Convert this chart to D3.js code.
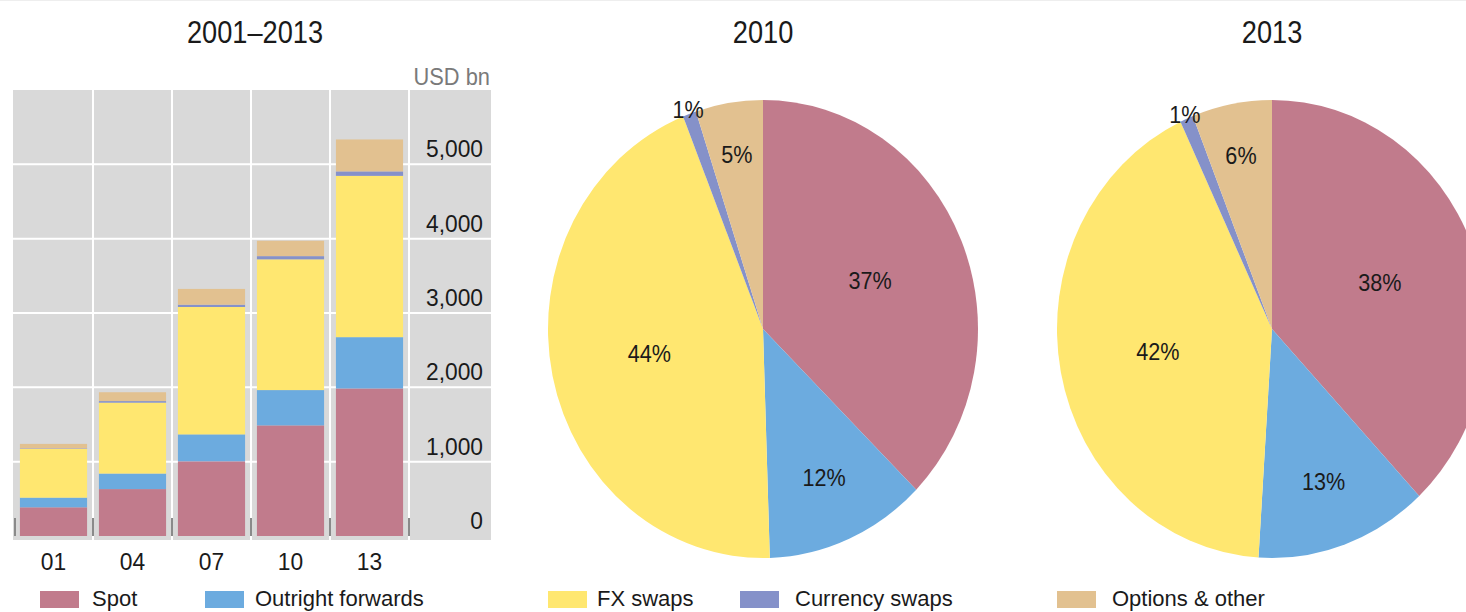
<!DOCTYPE html>
<html>
<head>
<meta charset="utf-8">
<script src="https://cdn.jsdelivr.net/npm/d3@7"></script>
<style>
  html, body { margin: 0; padding: 0; background: #ffffff; }
  svg { display: block; font-family: "Liberation Sans", Arial, sans-serif; }
</style>
</head>
<body>
<svg id="chart" width="1466" height="612"></svg>
<script>
// ---------------- data ----------------
const categories = ["01", "04", "07", "10", "13"];
const seriesNames = ["Spot", "Outright forwards", "FX swaps", "Currency swaps", "Options & other"];
const spot = [386, 631, 1005, 1488, 1985];
const outrightForwards = [130, 209, 362, 475, 690];
const fxSwaps = [656, 954, 1714, 1759, 2170];
const currencySwaps = [7, 21, 31, 43, 60];
const optionsOther = [60, 119, 212, 207, 430];
const yTicks = [0, 1000, 2000, 3000, 4000, 5000];
const barTitle = "2001–2013";
const unitLabel = "USD bn";
const pieTitles = ["2010", "2013"];
const pie2010 = [37, 12, 44, 1, 5];
const pie2013 = [38, 13, 42, 1, 6];

// ---------------- styles ----------------
const colors = ["#C17B8C", "#6CABDF", "#FFE770", "#8591C9", "#E2C190"];
const textColor = "#1a1a1a";
const svg = d3.select("#chart");

function label(g, x, y, txt, opts) {
  const o = Object.assign({size: 24, sx: 0.9, anchor: "start", fill: textColor}, opts || {});
  return g.append("text")
    .attr("transform", `translate(${x},${y}) scale(${o.sx},1)`)
    .attr("text-anchor", o.anchor)
    .attr("font-size", o.size)
    .attr("fill", o.fill)
    .text(txt);
}

// faint top rule
svg.append("line").attr("x1", 0).attr("x2", 1466).attr("y1", 0.5).attr("y2", 0.5)
  .attr("stroke", "#eeeeee").attr("stroke-width", 1);

// ---------------- bar chart ----------------
const panel = {left: 13, right: 491, top: 90, bottom: 540};
const x = d3.scaleBand().domain(categories).range([14, 409]).paddingInner(0.15).paddingOuter(0.075);
const y = d3.scaleLinear().domain([0, 6000]).range([536, 90]);

const barG = svg.append("g");
barG.append("rect")
  .attr("x", panel.left).attr("y", panel.top)
  .attr("width", panel.right - panel.left).attr("height", panel.bottom - panel.top)
  .attr("fill", "#D9D9D9");

// horizontal gridlines
barG.selectAll("line.h").data(yTicks.slice(1)).join("line")
  .attr("class", "h")
  .attr("x1", panel.left).attr("x2", panel.right)
  .attr("y1", d => y(d)).attr("y2", d => y(d))
  .attr("stroke", "#ffffff").attr("stroke-width", 2);

// vertical gridlines at band boundaries
const bounds = categories.map((c, i) => x(c) - x.step() * x.paddingInner() / 2).slice(1)
  .concat([x(categories[categories.length - 1]) + x.bandwidth() + x.step() * x.paddingInner() / 2]);
barG.selectAll("line.v").data(bounds).join("line")
  .attr("class", "v")
  .attr("x1", d => d).attr("x2", d => d)
  .attr("y1", panel.top).attr("y2", panel.bottom)
  .attr("stroke", "#ffffff").attr("stroke-width", 2);

// stacked bars
const rows = categories.map((c, i) => ({
  cat: c,
  s0: spot[i], s1: outrightForwards[i], s2: fxSwaps[i], s3: currencySwaps[i], s4: optionsOther[i]
}));
const keys = ["s0", "s1", "s2", "s3", "s4"];
const stacked = d3.stack().keys(keys)(rows);
barG.selectAll("g.layer").data(stacked).join("g")
  .attr("class", "layer")
  .attr("fill", (d, i) => colors[i])
  .selectAll("rect").data(d => d).join("rect")
  .attr("x", d => x(d.data.cat))
  .attr("width", x.bandwidth())
  .attr("y", d => y(d[1]))
  .attr("height", d => y(d[0]) - y(d[1]));

// small bottom ticks
const tickXs = [x(categories[0]) - x.step() * x.paddingOuter() + 1].concat(bounds);
barG.selectAll("line.t").data(tickXs).join("line")
  .attr("class", "t")
  .attr("x1", d => d).attr("x2", d => d)
  .attr("y1", 518).attr("y2", 536)
  .attr("stroke", "#8a8a8a").attr("stroke-width", 2);

// y tick labels (right side, above gridlines)
yTicks.forEach(t => {
  label(barG, 483, y(t) - 7, d3.format(",")(t), {anchor: "end", size: 24, sx: 0.95});
});
// x tick labels
categories.forEach(c => {
  label(barG, x(c) + x.bandwidth() / 2, 570, c, {anchor: "middle", size: 24, sx: 0.95});
});
// unit label
label(barG, 490, 85, unitLabel, {anchor: "end", size: 23, sx: 0.95, fill: "#7a7a7a"});
// title
label(svg, 255, 43, barTitle, {anchor: "middle", size: 32, sx: 0.85});

// ---------------- pies ----------------
const pieCenters = [763, 1272];
const pieCy = 329, ry = 229, rx = 215;
const pieData = [pie2010, pie2013];
const pieGen = d3.pie().sort(null).value(d => d);
const arcGen = d3.arc().innerRadius(0).outerRadius(ry);

pieData.forEach((vals, k) => {
  const cx = pieCenters[k];
  const arcs = pieGen(vals);
  const g = svg.append("g").attr("transform", `translate(${cx},${pieCy}) scale(${rx / ry},1)`);
  g.selectAll("path").data(arcs).join("path")
    .attr("d", arcGen)
    .attr("fill", (d, i) => colors[i]);
  const total = d3.sum(vals);
  arcs.forEach(a => {
    const share = a.data / total;
    const f = share >= 0.3 ? 0.54 : (share >= 0.1 ? 0.71 : (share >= 0.02 ? 0.77 : 1.02));
    const ang = (a.startAngle + a.endAngle) / 2;
    const lx = cx + Math.sin(ang) * f * rx;
    const ly = pieCy - Math.cos(ang) * f * ry;
    label(svg, lx, ly + 8, a.data + "%", {anchor: "middle", size: 24, sx: 0.9});
  });
  label(svg, cx, 43, pieTitles[k], {anchor: "middle", size: 32, sx: 0.85});
});

// ---------------- legend ----------------
const legendSwatchX = [40, 205, 548, 740, 1057];
const legendTextX = [92, 255, 597, 795, 1112];
seriesNames.forEach((n, i) => {
  svg.append("rect").attr("x", legendSwatchX[i]).attr("y", 591).attr("width", 39).attr("height", 17)
    .attr("fill", colors[i]);
  label(svg, legendTextX[i], 606, n, {size: 22, sx: 1.0});
});
</script>
</body>
</html>
